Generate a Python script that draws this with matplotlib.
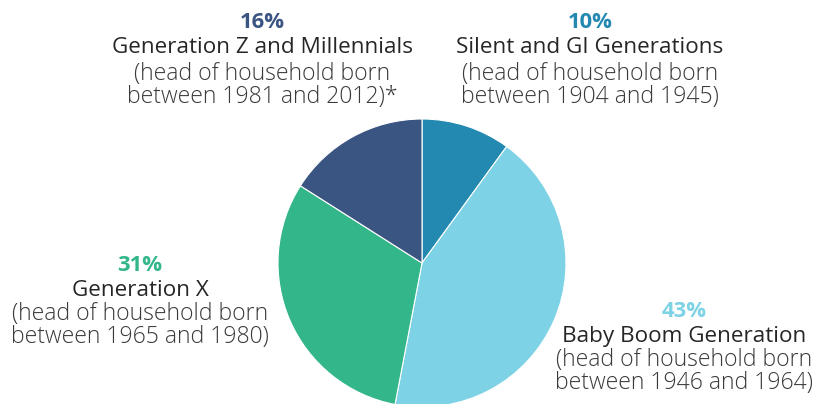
import matplotlib
matplotlib.use("Agg")
import matplotlib.pyplot as plt

categories = ["Silent and GI Generations", "Baby Boom Generation", "Generation X", "Generation Z and Millennials"]
values = [10, 43, 31, 16]
subtitles = ["(head of household born\nbetween 1904 and 1945)",
             "(head of household born\nbetween 1946 and 1964)",
             "(head of household born\nbetween 1965 and 1980)",
             "(head of household born\nbetween 1981 and 2012)*"]
colors = ["#2389b1", "#7dd2e5", "#33b68a", "#3b5583"]

W, H = 814, 404
fig = plt.figure(figsize=(W / 100, H / 100), dpi=100)
ax = fig.add_axes([0, 0, 1, 1])
ax.set_xlim(0, W)
ax.set_ylim(0, H)
ax.set_aspect("equal")
ax.axis("off")

ax.pie(values, colors=colors, startangle=90, counterclock=False,
       center=(422, H - 263), radius=144,
       wedgeprops=dict(edgecolor="white", linewidth=0.8))
ax.set_xlim(0, W)
ax.set_ylim(0, H)

FONT = ["Open Sans", "DejaVu Sans"]
px = 72 / 100
# (center x, baseline y of percent line, line offsets)
label_pos = [(590, 28, (25, 52, 75)), (684, 317, (25, 49, 72)),
             (140, 271, (25, 49, 72)), (262, 28, (25, 52, 75))]
for cat, val, sub, col, (x, y, offs) in zip(categories, values, subtitles, colors, label_pos):
    l1, l2 = sub.split("\n")
    ax.text(x, H - y, f"{val}%", ha="center", va="baseline", color=col,
            fontsize=22 * px, fontweight="bold", family=FONT)
    ax.text(x, H - y - offs[0], cat, ha="center", va="baseline", color="#262626",
            fontsize=22.5 * px, family=FONT)
    ax.text(x, H - y - offs[1], l1, ha="center", va="baseline", color="#3a3a3a",
            fontsize=23 * px, fontweight="light", family=FONT)
    ax.text(x, H - y - offs[2], l2, ha="center", va="baseline", color="#3a3a3a",
            fontsize=23 * px, fontweight="light", family=FONT)

fig.savefig("out.png", dpi=100)
